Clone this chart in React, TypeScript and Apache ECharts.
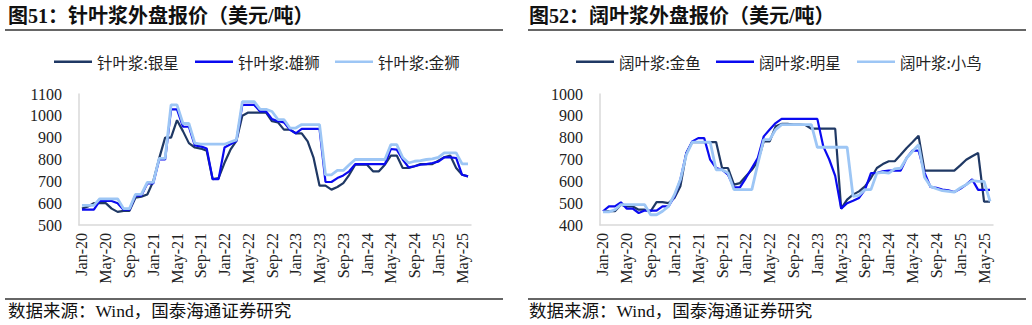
import React, { useEffect, useRef } from "react";
import * as echarts from "echarts";

const monthNames = ["Jan", "Feb", "Mar", "Apr", "May", "Jun", "Jul", "Aug", "Sep", "Oct", "Nov", "Dec"];
const years = ["20", "21", "22", "23", "24", "25"];
const categories: string[] = [];
years.forEach((y) => monthNames.forEach((m) => categories.push(`${m}-${y}`)));
categories.length = 66; // Jan-20 .. Jun-25

// 针叶浆 (softwood pulp), USD/t
const softSilverStar = [
  575, 585, 600, 600, 600, 575, 560, 565, 565, 625,
  630, 640, 700, 805, 900, 900, 980, 930, 875, 855,
  850, 840, 710, 715, 785, 845, 885, 1000, 1015, 1015,
  1015, 1015, 975, 970, 937, 937, 920, 920, 883, 807,
  680, 680, 662, 674, 692, 730, 776, 776, 776, 746,
  746, 776, 818, 818, 761, 761, 769, 779, 779, 779,
  795, 810, 818, 761, 730, 723,
];
const softLion = [
  570, 570, 570, 610, 610, 610, 600, 570, 570, 635,
  635, 690, 690, 800, 800, 1030, 1030, 950, 950, 865,
  860, 850, 710, 710, 855, 870, 885, 1050, 1050, 1050,
  1020, 1020, 985, 975, 970, 937, 920, 940, 940, 940,
  940, 697, 697, 715, 727, 746, 779, 779, 779, 779,
  779, 779, 848, 845, 800, 764, 769, 776, 779, 784,
  790, 810, 810, 807, 730, 723,
];
const softGoldLion = [
  590, 590, 590, 620, 620, 620, 620, 575, 575, 640,
  640, 695, 695, 805, 805, 1050, 1050, 965, 965, 875,
  870, 870, 870, 870, 870, 880, 890, 1065, 1065, 1065,
  1030, 1030, 1020, 983, 983, 944, 944, 960, 960, 960,
  960, 730, 730, 750, 750, 776, 800, 800, 800, 800,
  800, 800, 868, 868, 809, 784, 792, 795, 800, 803,
  810, 830, 830, 830, 780, 780,
];

// 阔叶浆 (hardwood pulp), USD/t
const hardGoldfish = [
  463, 463, 463, 493, 485, 485, 470, 470, 463, 505,
  505, 500, 524, 577, 730, 780, 780, 780, 780, 780,
  661, 661, 585, 592, 623, 653, 692, 783, 783, 852,
  863, 863, 860, 860, 858, 841, 841, 841, 841, 841,
  475, 516, 539, 554, 577, 615, 661, 679, 692, 692,
  722, 753, 780, 809, 649, 649, 649, 649, 649, 649,
  673, 699, 715, 730, 507, 507,
];
const hardStar = [
  463, 485, 485, 504, 475, 475, 455, 466, 466, 466,
  485, 485, 531, 608, 730, 783, 798, 798, 699, 661,
  653, 630, 572, 572, 615, 661, 707, 806, 837, 867,
  886, 886, 886, 886, 886, 886, 886, 760, 700, 625,
  475, 500, 511, 524, 562, 638, 638, 646, 649, 649,
  649, 707, 741, 741, 640, 574, 570, 562, 559, 551,
  566, 585, 609, 561, 561, 561,
];
const hardBird = [
  460, 460, 470, 493, 493, 493, 493, 493, 447, 447,
  463, 485, 539, 608, 722, 780, 780, 780, 780, 653,
  653, 638, 562, 562, 562, 562, 680, 791, 791, 837,
  860, 860, 860, 860, 860, 860, 756, 756, 756, 756,
  756, 756, 531, 536, 562, 562, 638, 641, 638, 657,
  661, 707, 738, 768, 619, 577, 566, 557, 554, 551,
  570, 585, 603, 600, 600, 508,
];

const leftNames = ["针叶浆:银星", "针叶浆:雄狮", "针叶浆:金狮"];
const rightNames = ["阔叶浆:金鱼", "阔叶浆:明星", "阔叶浆:小鸟"];
const colors = ["#1F3864", "#0A0AF0", "#9DC6F5"];
const widths = [2.2, 2.2, 2.8];

const SERIF = "'Liberation Serif', 'Noto Sans CJK SC', serif";
const TXT = "#222";

export default function App() {
  const ref = useRef<HTMLDivElement>(null);
  useEffect(() => {
    if (!ref.current) return;
    const chart = echarts.init(ref.current, undefined, { renderer: "svg" });

    const mkX = (gridIndex: number) => ({
      type: "category",
      gridIndex,
      data: categories,
      boundaryGap: true,
      axisLine: { lineStyle: { color: "#d9d9d9", width: 1.5 } },
      axisTick: { show: false },
      axisLabel: {
        interval: 3,
        rotate: 90,
        margin: 8,
        color: TXT,
        fontFamily: SERIF,
        fontSize: 16,
      },
    });
    const mkY = (gridIndex: number, min: number, max: number) => ({
      type: "value",
      gridIndex,
      min,
      max,
      interval: 100,
      axisLine: { show: true, lineStyle: { color: "#d9d9d9", width: 1.5 } },
      axisTick: { show: false },
      splitLine: { show: false },
      axisLabel: {
        margin: 17,
        color: TXT,
        fontFamily: SERIF,
        fontSize: 16,
        formatter: (v: number) => String(v),
      },
    });

    const leftData = [softSilverStar, softLion, softGoldLion];
    const rightData = [hardGoldfish, hardStar, hardBird];
    const series: any[] = [];
    leftData.forEach((d, k) =>
      series.push({
        type: "line",
        name: leftNames[k],
        xAxisIndex: 0,
        yAxisIndex: 0,
        data: d,
        symbol: "none",
        lineStyle: { color: colors[k], width: widths[k] },
        itemStyle: { color: colors[k] },
      })
    );
    rightData.forEach((d, k) =>
      series.push({
        type: "line",
        name: rightNames[k],
        xAxisIndex: 1,
        yAxisIndex: 1,
        data: d,
        symbol: "none",
        lineStyle: { color: colors[k], width: widths[k] },
        itemStyle: { color: colors[k] },
      })
    );

    const legendLefts = [54, 195, 335, 576, 716, 857];
    const allNames = [...leftNames, ...rightNames];
    const legends = allNames.map((n, k) => ({
      data: [n],
      left: legendLefts[k],
      top: 54,
      padding: 0,
      icon: "rect",
      itemWidth: 38,
      itemHeight: 2.5,
      textStyle: { color: TXT, fontSize: 15.5, fontFamily: "'Noto Sans CJK SC', sans-serif" },
    }));

    const titleFont = `bold 20px ${SERIF}`;
    const srcFont = `17.5px ${SERIF}`;
    const graphic: any[] = [
      { type: "text", style: { text: "图51：针叶浆外盘报价（美元/吨）", x: 8, y: 16, font: titleFont, fill: "#111", textVerticalAlign: "middle" } },
      { type: "text", style: { text: "图52：阔叶浆外盘报价（美元/吨）", x: 529, y: 16, font: titleFont, fill: "#111", textVerticalAlign: "middle" } },
      { type: "line", shape: { x1: 5, y1: 30, x2: 503, y2: 30 }, style: { stroke: "#333", lineWidth: 1.3 } },
      { type: "line", shape: { x1: 528, y1: 30, x2: 1026, y2: 30 }, style: { stroke: "#333", lineWidth: 1.3 } },
      { type: "line", shape: { x1: 5, y1: 299, x2: 503, y2: 299 }, style: { stroke: "#333", lineWidth: 1.3 } },
      { type: "line", shape: { x1: 528, y1: 299, x2: 1026, y2: 299 }, style: { stroke: "#333", lineWidth: 1.3 } },
      { type: "text", style: { text: "数据来源：Wind，国泰海通证券研究", x: 8, y: 311, font: srcFont, fill: "#111", textVerticalAlign: "middle" } },
      { type: "text", style: { text: "数据来源：Wind，国泰海通证券研究", x: 529, y: 311, font: srcFont, fill: "#111", textVerticalAlign: "middle" } },
    ];

    chart.setOption({
      animation: false,
      backgroundColor: "#fff",
      legend: legends,
      grid: [
        { left: 79, top: 94, width: 392, height: 131, containLabel: false },
        { left: 600, top: 94, width: 393, height: 131, containLabel: false },
      ],
      xAxis: [mkX(0), mkX(1)],
      yAxis: [mkY(0, 500, 1100), mkY(1, 400, 1000)],
      series,
      graphic,
    });
    return () => chart.dispose();
  }, []);

  return (
    <div
      ref={ref}
      style={{ position: "fixed", left: 0, top: 0, width: 1032, height: 325, background: "#fff" }}
    />
  );
}
